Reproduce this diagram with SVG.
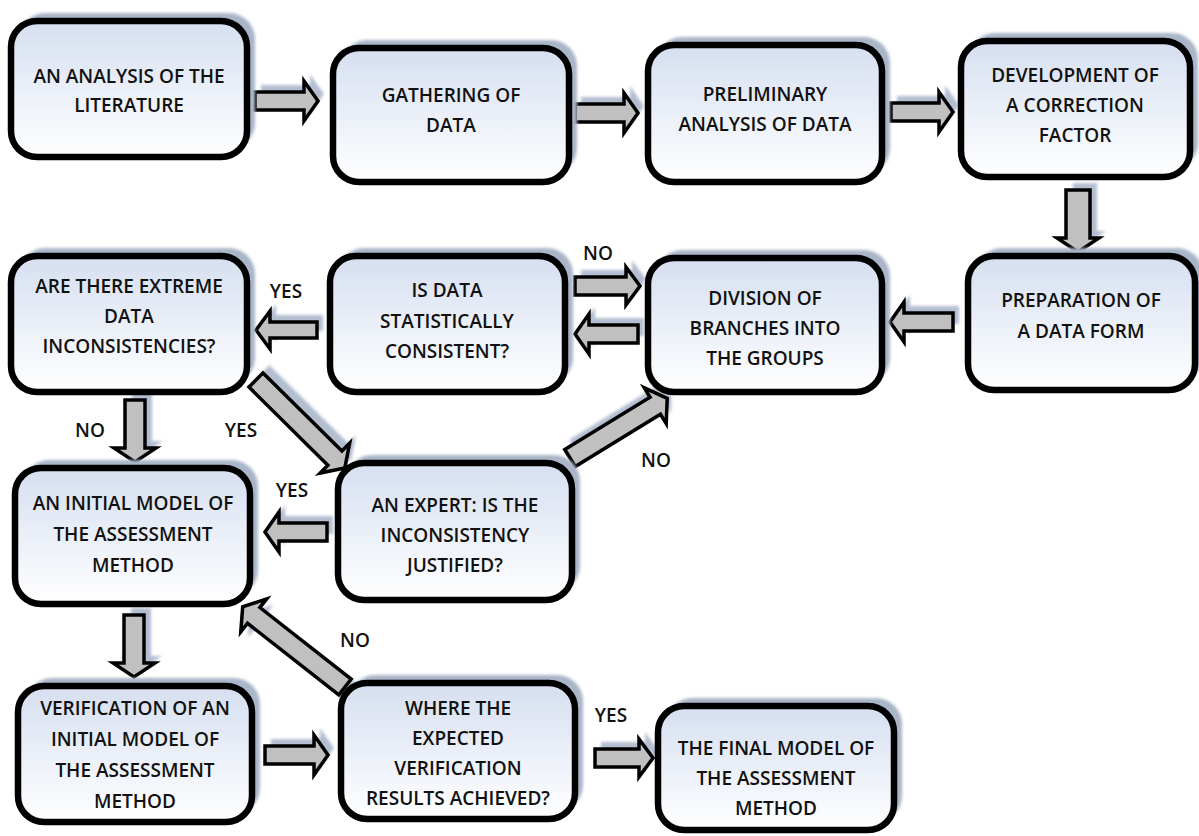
<svg xmlns="http://www.w3.org/2000/svg" width="1199" height="836" viewBox="0 0 1199 836">
<defs>
<linearGradient id="boxfill" x1="0" y1="0" x2="0" y2="1">
<stop offset="0" stop-color="#d6dff0"/>
<stop offset="1" stop-color="#ffffff"/>
</linearGradient>
<filter id="blur" x="-10%" y="-10%" width="120%" height="120%">
<feGaussianBlur stdDeviation="1.5"/>
</filter>
</defs>
<style>
.shadow{fill:#a9b5c8;filter:url(#blur)}
.box{fill:url(#boxfill);stroke:#000;stroke-width:6.5}
.ashadow{fill:#b3bed0;filter:url(#blur)}
.arrow{fill:#c0c0c0;stroke:#000;stroke-width:3.5;stroke-linejoin:miter}
text{font-family:"Open Sans","Liberation Sans",sans-serif;font-weight:600;font-size:19px;fill:#111;text-anchor:middle}
</style>
<rect width="1199" height="836" fill="#fff"/>

<g id="connectors">
<g transform="translate(255,101)"><path class="ashadow" transform="translate(6,-7)" d="M0,-9 H49 V-20 L63,0 L49,20 V9 H0 Z"/><path class="arrow" d="M0,-9 H49 V-20 L63,0 L49,20 V9 H0 Z"/></g>
<g transform="translate(575,113)"><path class="ashadow" transform="translate(6,-7)" d="M0,-9 H49 V-20 L63,0 L49,20 V9 H0 Z"/><path class="arrow" d="M0,-9 H49 V-20 L63,0 L49,20 V9 H0 Z"/></g>
<g transform="translate(891,112)"><path class="ashadow" transform="translate(6,-7)" d="M0,-9 H48 V-20 L62,0 L48,20 V9 H0 Z"/><path class="arrow" d="M0,-9 H48 V-20 L62,0 L48,20 V9 H0 Z"/></g>
<g transform="translate(1078,190) rotate(90)"><path class="ashadow" transform="translate(-7,-7)" d="M0,-12 H48 V-21 L62,0 L48,21 V12 H0 Z"/><path class="arrow" d="M0,-12 H48 V-21 L62,0 L48,21 V12 H0 Z"/></g>
<g transform="translate(953,322) rotate(180)"><path class="ashadow" transform="translate(-6,7)" d="M0,-9 H49 V-20 L63,0 L49,20 V9 H0 Z"/><path class="arrow" d="M0,-9 H49 V-20 L63,0 L49,20 V9 H0 Z"/></g>
<g transform="translate(575,286)"><path class="ashadow" transform="translate(6,-7)" d="M0,-9 H51 V-19 L65,0 L51,19 V9 H0 Z"/><path class="arrow" d="M0,-9 H51 V-19 L65,0 L51,19 V9 H0 Z"/></g>
<g transform="translate(638,334) rotate(180)"><path class="ashadow" transform="translate(-6,7)" d="M0,-9 H49 V-20 L63,0 L49,20 V9 H0 Z"/><path class="arrow" d="M0,-9 H49 V-20 L63,0 L49,20 V9 H0 Z"/></g>
<g transform="translate(317,330) rotate(180)"><path class="ashadow" transform="translate(-6,7)" d="M0,-8 H47 V-19 L61,0 L47,19 V8 H0 Z"/><path class="arrow" d="M0,-8 H47 V-19 L61,0 L47,19 V8 H0 Z"/></g>
<g transform="translate(135,400) rotate(90)"><path class="ashadow" transform="translate(-7,-7)" d="M0,-10 H48 V-21 L62,0 L48,21 V10 H0 Z"/><path class="arrow" d="M0,-10 H48 V-21 L62,0 L48,21 V10 H0 Z"/></g>
<g transform="translate(256,380) rotate(44.7)"><path class="ashadow" transform="translate(-1,-10)" d="M0,-10 H111 V-21 L125,0 L111,21 V10 H0 Z"/><path class="arrow" d="M0,-10 H111 V-21 L125,0 L111,21 V10 H0 Z"/></g>
<g transform="translate(570,458) rotate(-31.5)"><path class="ashadow" transform="translate(9,-6)" d="M0,-10 H100 V-21 L114,0 L100,21 V10 H0 Z"/><path class="arrow" d="M0,-10 H100 V-21 L114,0 L100,21 V10 H0 Z"/></g>
<g transform="translate(327,532) rotate(180)"><path class="ashadow" transform="translate(-6,7)" d="M0,-9 H48 V-20 L62,0 L48,20 V9 H0 Z"/><path class="arrow" d="M0,-9 H48 V-20 L62,0 L48,20 V9 H0 Z"/></g>
<g transform="translate(134,615) rotate(90)"><path class="ashadow" transform="translate(-7,-7)" d="M0,-10 H48 V-21 L62,0 L48,21 V10 H0 Z"/><path class="arrow" d="M0,-10 H48 V-21 L62,0 L48,21 V10 H0 Z"/></g>
<g transform="translate(345,687) rotate(218.1)"><path class="ashadow" transform="translate(-9,0)" d="M0,-10 H116 V-21 L130,0 L116,21 V10 H0 Z"/><path class="arrow" d="M0,-10 H116 V-21 L130,0 L116,21 V10 H0 Z"/></g>
<g transform="translate(265,755)"><path class="ashadow" transform="translate(6,-7)" d="M0,-9 H49 V-20 L63,0 L49,20 V9 H0 Z"/><path class="arrow" d="M0,-9 H49 V-20 L63,0 L49,20 V9 H0 Z"/></g>
<g transform="translate(595,758)"><path class="ashadow" transform="translate(6,-7)" d="M0,-9 H44 V-19 L58,0 L44,19 V9 H0 Z"/><path class="arrow" d="M0,-9 H44 V-19 L58,0 L44,19 V9 H0 Z"/></g>

<text x="598" y="260">NO</text>
<text x="286" y="298">YES</text>
<text x="90" y="437">NO</text>
<text x="241" y="437">YES</text>
<text x="656" y="467">NO</text>
<text x="292" y="497">YES</text>
<text x="355" y="647">NO</text>
<text x="611" y="722">YES</text>
</g>

<g id="n1"><rect class="shadow" x="19" y="13" width="236" height="136" rx="26"/><rect class="box" x="11" y="21" width="236" height="136" rx="26"/>
<text x="129" y="83">AN ANALYSIS OF THE</text><text x="129" y="112">LITERATURE</text></g>

<g id="n2"><rect class="shadow" x="341" y="40" width="236" height="134" rx="26"/><rect class="box" x="333" y="48" width="236" height="134" rx="26"/>
<text x="451" y="102">GATHERING OF</text><text x="451" y="132">DATA</text></g>

<g id="n3"><rect class="shadow" x="656" y="37" width="234" height="137" rx="26"/><rect class="box" x="648" y="45" width="234" height="137" rx="26"/>
<text x="765" y="101">PRELIMINARY</text><text x="765" y="131">ANALYSIS OF DATA</text></g>

<g id="n4"><rect class="shadow" x="969" y="33" width="229" height="136" rx="26"/><rect class="box" x="961" y="41" width="229" height="136" rx="26"/>
<text x="1075" y="82">DEVELOPMENT OF</text><text x="1075" y="112">A CORRECTION</text><text x="1075" y="142">FACTOR</text></g>

<g id="n5"><rect class="shadow" x="19" y="248" width="236" height="136" rx="26"/><rect class="box" x="11" y="256" width="236" height="136" rx="26"/>
<text x="129" y="293">ARE THERE EXTREME</text><text x="129" y="323">DATA</text><text x="129" y="353">INCONSISTENCIES?</text></g>

<g id="n6"><rect class="shadow" x="338" y="248" width="235" height="136" rx="26"/><rect class="box" x="330" y="256" width="235" height="136" rx="26"/>
<text x="447" y="297">IS DATA</text><text x="447" y="328">STATISTICALLY</text><text x="447" y="358">CONSISTENT?</text></g>

<g id="n7"><rect class="shadow" x="656" y="250" width="234" height="134" rx="26"/><rect class="box" x="648" y="258" width="234" height="134" rx="26"/>
<text x="765" y="305">DIVISION OF</text><text x="765" y="335">BRANCHES INTO</text><text x="765" y="365">THE GROUPS</text></g>

<g id="n8"><rect class="shadow" x="976" y="248" width="227" height="134" rx="26"/><rect class="box" x="968" y="256" width="227" height="134" rx="26"/>
<text x="1081" y="307">PREPARATION OF</text><text x="1081" y="338">A DATA FORM</text></g>

<g id="n9"><rect class="shadow" x="23" y="460" width="235" height="136" rx="26"/><rect class="box" x="15" y="468" width="235" height="136" rx="26"/>
<text x="133" y="510">AN INITIAL MODEL OF</text><text x="133" y="541">THE ASSESSMENT</text><text x="133" y="572">METHOD</text></g>

<g id="n10"><rect class="shadow" x="346" y="455" width="234" height="137" rx="26"/><rect class="box" x="338" y="463" width="234" height="137" rx="26"/>
<text x="455" y="512">AN EXPERT: IS THE</text><text x="455" y="542">INCONSISTENCY</text><text x="455" y="572">JUSTIFIED?</text></g>

<g id="n11"><rect class="shadow" x="26" y="678" width="234" height="136" rx="26"/><rect class="box" x="18" y="686" width="234" height="136" rx="26"/>
<text x="135" y="715">VERIFICATION OF AN</text><text x="135" y="746">INITIAL MODEL OF</text><text x="135" y="777">THE ASSESSMENT</text><text x="135" y="808">METHOD</text></g>

<g id="n12"><rect class="shadow" x="349" y="675" width="234" height="136" rx="26"/><rect class="box" x="341" y="683" width="234" height="136" rx="26"/>
<text x="458" y="715">WHERE THE</text><text x="458" y="745">EXPECTED</text><text x="458" y="775">VERIFICATION</text><text x="458" y="805">RESULTS ACHIEVED?</text></g>

<g id="n13"><rect class="shadow" x="666" y="698" width="236" height="124" rx="26"/><rect class="box" x="658" y="706" width="236" height="124" rx="26"/>
<text x="776" y="755">THE FINAL MODEL OF</text><text x="776" y="785">THE ASSESSMENT</text><text x="776" y="815">METHOD</text></g>
</svg>
